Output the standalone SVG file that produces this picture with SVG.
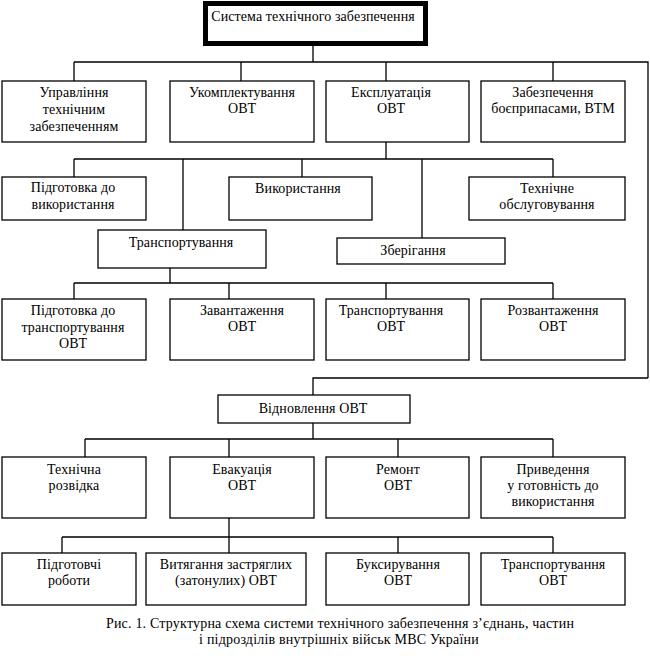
<svg xmlns="http://www.w3.org/2000/svg" width="650" height="656" viewBox="0 0 650 656">
<style>
.b{fill:#fff;stroke:#000;stroke-width:1.3}
.t{font-family:"Liberation Serif","Times New Roman",serif;font-size:14px;letter-spacing:0.1px;fill:#000;text-anchor:middle}
.c{fill:none;stroke:#000;stroke-width:1.3}
.cap{font-family:"Liberation Serif","Times New Roman",serif;font-size:14px;letter-spacing:0.2px;fill:#000;text-anchor:middle}
</style>
<rect width="650" height="656" fill="#fff"/>
<g id="connectors">
<path class="c" d="M313,46V62M74,62H648V378M74,62V81M241,62V81M386,62V81M553,62V81"/>
<path class="c" d="M386,142V159M74,159H553M74,159V177M183,159V230M302,159V177M422,159V238M553,159V177"/>
<path class="c" d="M170,268V283M74,283H553M74,283V299M229,283V299M386,283V299M553,283V299"/>
<path class="c" d="M648,378H313V395"/>
<path class="c" d="M313,423V439M85,439H553M85,439V457M229,439V457M398,439V457M553,439V457"/>
<path class="c" d="M229,518V537M62,537H553M62,537V553M229,537V553M398,537V553M553,537V553"/>
</g>
<g id="root"><rect x="205.5" y="3.5" width="220" height="40" fill="#fff" stroke="#000" stroke-width="5"/><text class="t" x="313" y="21">Система технічного забезпечення</text></g>
<g id="n1"><rect class="b" x="2" y="81" width="144" height="61"/><text class="t" x="74" y="97">Управління</text><text class="t" x="74" y="114">технічним</text><text class="t" x="74" y="131">забезпеченням</text></g>
<g id="n2"><rect class="b" x="170" y="81" width="144" height="61"/><text class="t" x="242" y="97">Укомплектування</text><text class="t" x="242" y="113">ОВТ</text></g>
<g id="n3"><rect class="b" x="326" y="81" width="143" height="61"/><text class="t" x="391" y="97">Експлуатація</text><text class="t" x="391" y="113">ОВТ</text></g>
<g id="n4"><rect class="b" x="481" y="81" width="144" height="61"/><text class="t" x="553" y="97">Забезпечення</text><text class="t" x="553" y="113">боєприпасами, ВТМ</text></g>
<g id="n5"><rect class="b" x="2" y="177" width="144" height="43"/><text class="t" x="73" y="192">Підготовка до</text><text class="t" x="73" y="209">використання</text></g>
<g id="n6"><rect class="b" x="229" y="177" width="143" height="43"/><text class="t" x="298" y="193">Використання</text></g>
<g id="n7"><rect class="b" x="469" y="177" width="156" height="43"/><text class="t" x="547" y="193">Технічне</text><text class="t" x="547" y="209">обслуговування</text></g>
<g id="n8"><rect class="b" x="98" y="230" width="168" height="38"/><text class="t" x="181" y="247">Транспортування</text></g>
<g id="n9"><rect class="b" x="337" y="238" width="168" height="26"/><text class="t" x="413" y="255">Зберігання</text></g>
<g id="n10"><rect class="b" x="2" y="299" width="144" height="61"/><text class="t" x="73" y="315">Підготовка до</text><text class="t" x="73" y="332">транспортування</text><text class="t" x="73" y="348">ОВТ</text></g>
<g id="n11"><rect class="b" x="170" y="299" width="144" height="61"/><text class="t" x="242" y="315">Завантаження</text><text class="t" x="242" y="331">ОВТ</text></g>
<g id="n12"><rect class="b" x="326" y="299" width="143" height="61"/><text class="t" x="391" y="315">Транспортування</text><text class="t" x="391" y="331">ОВТ</text></g>
<g id="n13"><rect class="b" x="481" y="299" width="144" height="61"/><text class="t" x="553" y="315">Розвантаження</text><text class="t" x="553" y="331">ОВТ</text></g>
<g id="n14"><rect class="b" x="218" y="395" width="192" height="28"/><text class="t" x="313" y="413">Відновлення ОВТ</text></g>
<g id="n15"><rect class="b" x="2" y="457" width="144" height="61"/><text class="t" x="74" y="474">Технічна</text><text class="t" x="74" y="490">розвідка</text></g>
<g id="n16"><rect class="b" x="170" y="457" width="144" height="61"/><text class="t" x="242" y="474">Евакуація</text><text class="t" x="242" y="490">ОВТ</text></g>
<g id="n17"><rect class="b" x="326" y="457" width="143" height="61"/><text class="t" x="398" y="474">Ремонт</text><text class="t" x="398" y="490">ОВТ</text></g>
<g id="n18"><rect class="b" x="481" y="457" width="144" height="61"/><text class="t" x="553" y="474">Приведення</text><text class="t" x="553" y="490">у готовність до</text><text class="t" x="553" y="506">використання</text></g>
<g id="n19"><rect class="b" x="2" y="553" width="134" height="52"/><text class="t" x="69" y="569">Підготовчі</text><text class="t" x="69" y="585">роботи</text></g>
<g id="n20"><rect class="b" x="146" y="553" width="160" height="52"/><text class="t" x="226" y="569">Витягання застряглих</text><text class="t" x="226" y="585">(затонулих) ОВТ</text></g>
<g id="n21"><rect class="b" x="326" y="553" width="143" height="52"/><text class="t" x="398" y="569">Буксирування</text><text class="t" x="398" y="585">ОВТ</text></g>
<g id="n22"><rect class="b" x="481" y="553" width="144" height="52"/><text class="t" x="553" y="569">Транспортування</text><text class="t" x="553" y="585">ОВТ</text></g>
<text class="cap" x="340" y="628">Рис. 1. Структурна схема системи технічного забезпечення з’єднань, частин</text>
<text class="cap" x="339" y="644">і підрозділів внутрішніх військ МВС України</text>
</svg>
